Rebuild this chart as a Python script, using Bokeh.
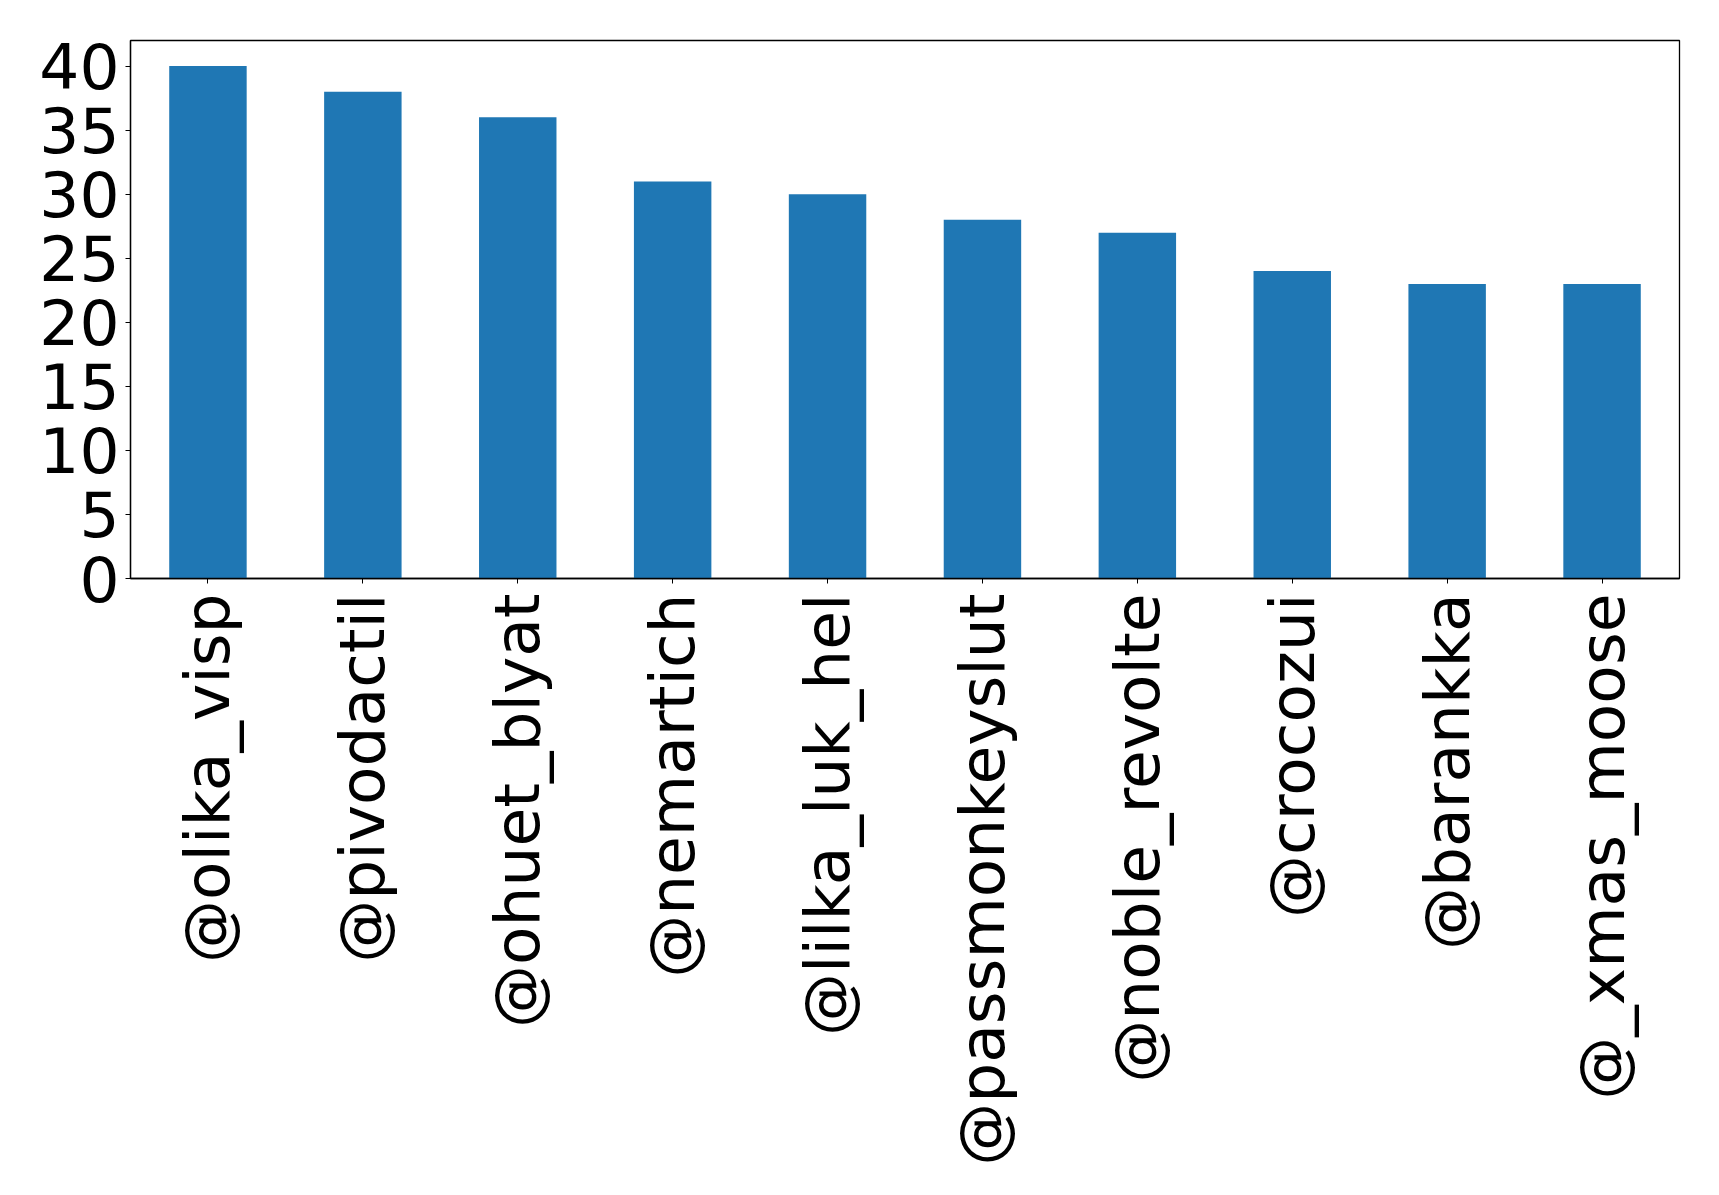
from bokeh.plotting import figure
from bokeh.models import FactorRange, Range1d, FixedTicker, ColumnDataSource
from bokeh.embed import file_html
from bokeh.resources import INLINE
import math

categories = ["@olika_visp", "@pivodactil", "@ohuet_blyat", "@nemartich", "@lilka_luk_hel",
              "@passmonkeyslut", "@noble_revolte", "@crocozui", "@barankka", "@_xmas_moose"]
counts = [40, 38, 36, 31, 30, 28, 27, 24, 23, 23]
y_ticks = [0, 5, 10, 15, 20, 25, 30, 35, 40]

src = ColumnDataSource(data=dict(cat=categories, val=counts))

p = figure(width=1711, height=1187, output_backend="svg", toolbar_location=None,
           x_range=FactorRange(factors=categories, range_padding=0),
           y_range=Range1d(0, 42),
           min_border_left=130, min_border_right=32, min_border_top=40, min_border_bottom=609)

p.vbar(x="cat", top="val", width=0.5, source=src, fill_color="#1f77b4", line_color=None)

p.xgrid.grid_line_color = None
p.ygrid.grid_line_color = None
p.outline_line_color = "black"
p.outline_line_width = 1.3
p.background_fill_color = "white"

FONT = "DejaVu Sans"
FS = "63px"

p.yaxis.ticker = FixedTicker(ticks=y_ticks)
for ax in (p.xaxis[0], p.yaxis[0]):
    ax.major_label_text_font = FONT
    ax.major_label_text_font_size = FS
    ax.major_label_text_color = "black"
    ax.major_tick_out = 5
    ax.major_tick_in = 0
    ax.minor_tick_out = 0
    ax.minor_tick_in = 0
    ax.axis_line_color = "black"
    ax.major_tick_line_color = "black"
    ax.axis_line_width = 1.3

p.yaxis.major_label_standoff = 6
p.xaxis.major_label_standoff = 10
p.xaxis.major_label_orientation = math.pi / 2

open("out.html", "w").write(file_html(p, INLINE))
